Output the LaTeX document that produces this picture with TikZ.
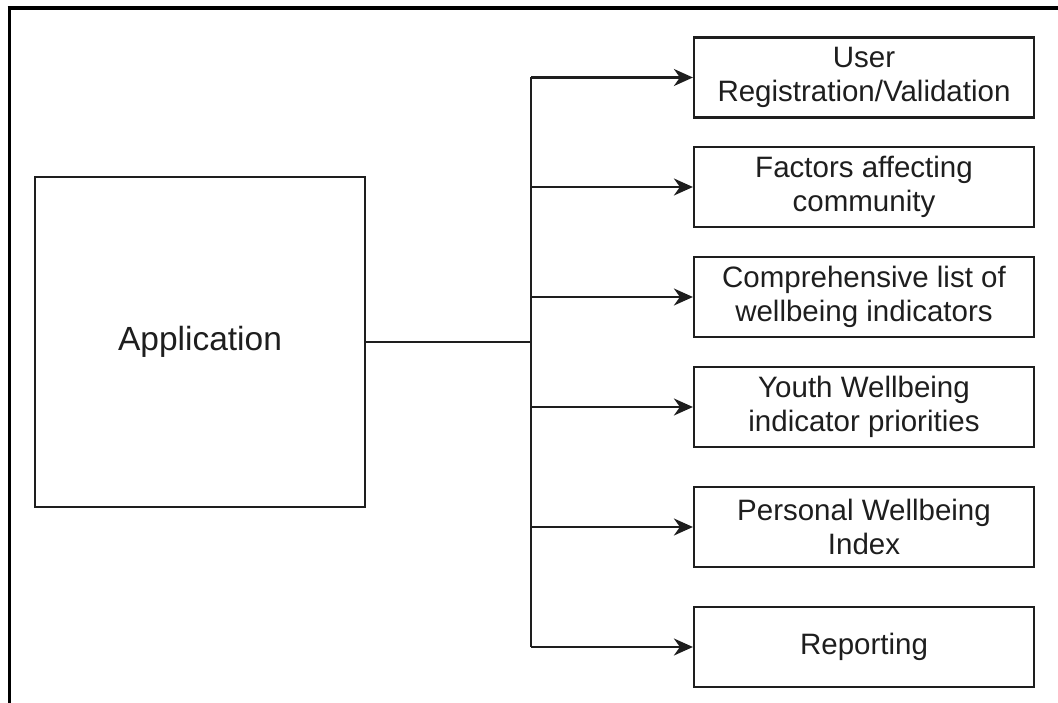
\documentclass[tikz,border=0pt]{standalone}
\usepackage{fontspec}
\setmainfont{Liberation Sans}
\usetikzlibrary{arrows.meta}
\definecolor{ink}{HTML}{1E1E1E}
\begin{document}
\begin{tikzpicture}[x=1pt,y=-1pt,
  frameline/.style={line width=3.8pt,draw=black},
  appbox/.style={draw=ink,line width=2.2pt,minimum width=330pt,minimum height=330pt,
    inner sep=0pt,font=\fontsize{33.5}{38}\selectfont,text=ink},
  itembox/.style={draw=ink,line width=2.2pt,minimum width=340pt,minimum height=80pt,
    inner sep=0pt,align=center,font=\fontsize{29.5}{34}\selectfont,text=ink},
  link/.style={draw=ink,line width=2.2pt},
  feed/.style={link,-{Stealth[length=19pt,width=17pt,inset=6pt]}}]
\useasboundingbox (0,0) rectangle (1058,703);
% partial frame (top and left edges)
\draw[frameline] (7.6,8) -- (1058,8);
\draw[frameline] (9.5,6.1) -- (9.5,703);
% main block
\node[appbox] (app) at (200,342) {\raisebox{-3pt}{Application}};
% module boxes
\node[itembox] (b1) at (864,77.5) {User\\Registration/Validation};
\node[itembox] (b2) at (864,187) {Factors affecting\\community};
\node[itembox] (b3) at (864,297) {Comprehensive list of\\wellbeing indicators};
\node[itembox] (b4) at (864,407) {Youth Wellbeing\\indicator priorities};
\node[itembox] (b5) at (864,527) {Personal Wellbeing\\Index};
\node[itembox] (b6) at (864,647) {Reporting};
% distribution bus
\coordinate (bus) at (531,342);
\draw[link] (app.east) -- (bus);
\draw[link] (bus |- b1.west) -- (bus |- b6.west);
\foreach \i in {1,...,6}
  \draw[feed] (bus |- b\i.west) -- (b\i.west);
\end{tikzpicture}
\end{document}
